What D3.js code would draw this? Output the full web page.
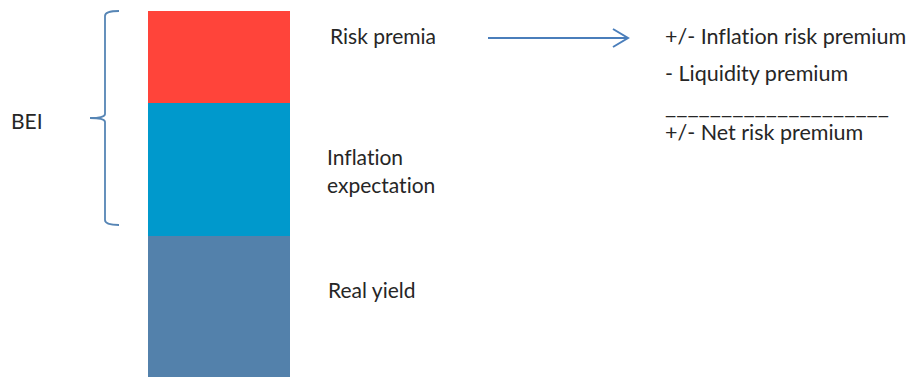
<!DOCTYPE html>
<html>
<head>
<meta charset="utf-8">
<script src="https://cdn.jsdelivr.net/npm/d3@7/dist/d3.min.js"></script>
<style>
  html, body { margin: 0; padding: 0; background: #ffffff; }
  svg { display: block; }
  text { font-family: Lato, "Open Sans", sans-serif; fill: #262626; font-variant-ligatures: none; }
</style>
</head>
<body>
<div id="chart"></div>
<script>
// Components of the breakeven inflation rate, stacked bottom to top
const components = ["Real yield", "Inflation expectation", "Risk premia"];
const componentValues = [1.41, 1.33, 0.92];
const componentColors = ["#5381ab", "#0099cc", "#ff443a"];
// Label text, line by line
const componentLabels = [["Real yield"], ["Inflation", "expectation"], ["Risk premia"]];
// Breakdown of the risk premia
const premiaTerms = ["+/- Inflation risk premium", "- Liquidity premium"];
const premiaTotal = "+/- Net risk premium";
const bracketLabel = "BEI";

const width = 913, height = 377;
const svg = d3.select("#chart").append("svg")
  .attr("width", width).attr("height", height);

// cumulative stack
const stacked = d3.stack().keys(components)([Object.fromEntries(components.map((c, i) => [c, componentValues[i]]))]);
const total = d3.sum(componentValues);

const x = d3.scaleBand().domain(["BEI"]).range([148, 290]).padding(0);
const y = d3.scaleLinear().domain([0, total]).range([377, 11]);

svg.append("g").selectAll("rect")
  .data(stacked)
  .join("rect")
  .attr("x", x("BEI"))
  .attr("width", x.bandwidth())
  .attr("y", d => y(d[0][1]))
  .attr("height", d => y(d[0][0]) - y(d[0][1]))
  .attr("fill", (d, i) => componentColors[i]);

// segment labels, offset from the segment top
const labelOffset = { "Real yield": 62, "Inflation expectation": 62, "Risk premia": 33 };
const labelX = { "Real yield": 328, "Inflation expectation": 327, "Risk premia": 330 };
const lineGap = 27.5;
const lg = svg.append("g").attr("font-size", "21px");
stacked.forEach((d, i) => {
  const key = d.key;
  const t = lg.append("text")
    .attr("x", labelX[key])
    .attr("y", y(d[0][1]) + labelOffset[key]);
  componentLabels[i].forEach((line, j) => {
    t.append("tspan").attr("x", labelX[key]).attr("dy", j === 0 ? 0 : lineGap).text(line);
  });
});

// brace spanning the breakeven part (inflation expectation + risk premia)
const braceColor = "#5685b5";
const bTop = 11, bBot = 225, bMid = 118, bx = 105, bEnd = 119, bTip = 90;
const brace = d3.path();
brace.moveTo(bEnd, bTop);
brace.quadraticCurveTo(bx, bTop, bx, bTop + 5);
brace.lineTo(bx, bMid - 4);
brace.quadraticCurveTo(bx, bMid, bTip, bMid);
brace.quadraticCurveTo(bx, bMid, bx, bMid + 4);
brace.lineTo(bx, bBot - 5);
brace.quadraticCurveTo(bx, bBot, bEnd, bBot);
svg.append("path").attr("d", brace.toString())
  .attr("fill", "none").attr("stroke", braceColor).attr("stroke-width", 1.8);

svg.append("text").attr("x", 11).attr("y", 128.5)
  .attr("font-size", "21px").text(bracketLabel);

// arrow from risk premia to its breakdown
const arrowY = 38;
const arrowColor = "#4a7ebb";
svg.append("line").attr("x1", 488).attr("x2", 628).attr("y1", arrowY).attr("y2", arrowY)
  .attr("stroke", arrowColor).attr("stroke-width", 2);
svg.append("path")
  .attr("d", `M613,${arrowY - 9} L628,${arrowY} L613,${arrowY + 9}`)
  .attr("fill", "none").attr("stroke", arrowColor).attr("stroke-width", 2);

// breakdown text
const rx = 665;
const rg = svg.append("g").attr("font-size", "21.5px");
premiaTerms.forEach((t, i) => {
  rg.append("text").attr("x", rx).attr("y", 44 + i * 37).text(t);
});
rg.append("text").attr("x", rx).attr("y", 114)
  .attr("textLength", 224).attr("lengthAdjust", "spacingAndGlyphs")
  .text("____________________");
rg.append("text").attr("x", rx).attr("y", 140).text(premiaTotal);
</script>
</body>
</html>
